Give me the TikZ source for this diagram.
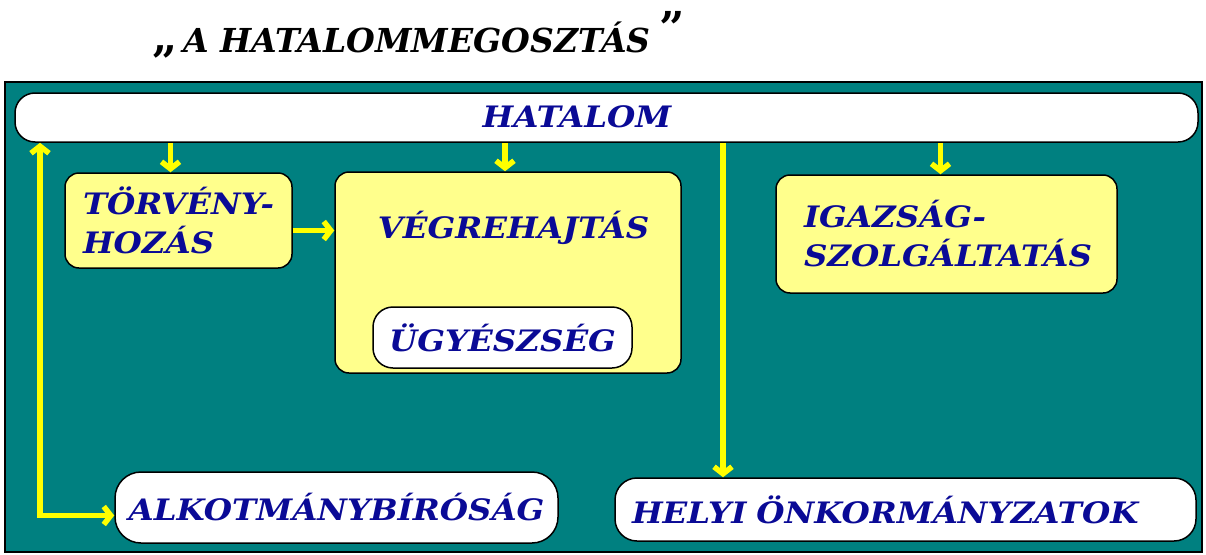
\documentclass[tikz,border=0pt]{standalone}
\usepackage{fontspec}
\setmainfont{DejaVu Serif}
\newfontfamily\dobozbetu{DejaVu Serif}[FakeStretch=1.1]
\usetikzlibrary{arrows.meta}
\definecolor{tenger}{RGB}{0,128,128}
\definecolor{halvsarga}{RGB}{255,255,140}
\definecolor{sarga}{RGB}{255,255,0}
\definecolor{kek}{RGB}{10,10,150}

\begin{document}
\begin{tikzpicture}[x=1pt,y=-1pt,
		felirat/.style={font=\dobozbetu\fontsize{29.5}{39}\selectfont\bfseries\itshape, text=kek},
		sargadoboz/.style={draw=black, line width=1.5pt, fill=halvsarga, rounded corners=14pt, felirat},
		feherdoboz/.style={draw=black, line width=1.5pt, fill=white, rounded corners=22pt, felirat},
		nyil/.style={draw=sarga, line width=5.5pt, -{Straight Barb[length=7pt,width=18pt]}},
		ketnyil/.style={nyil, {Straight Barb[length=7pt,width=18pt]}-{Straight Barb[length=7pt,width=18pt]}}]
	\useasboundingbox (0,0) rectangle (1206,554);
	\draw[line width=2pt, fill=tenger] (5,82) rectangle (1202,552);
	\node[font=\fontsize{33}{40}\selectfont\bfseries\itshape, anchor=base west, inner sep=0] (cim) at (152,52) {{\upshape\fontsize{44}{44}\selectfont „}\,A HATALOMMEGOSZTÁS\;\raisebox{9pt}{\upshape\fontsize{44}{44}\selectfont ”}};

	\node[feherdoboz, rounded corners=20pt, minimum width=1183, minimum height=49] (hatalom) at (606.5,117.5) {};
	\node[felirat, inner sep=0] (hatalomfelirat) at (577,117) {HATALOM};
	\node[sargadoboz, text width=191pt, inner xsep=18pt, align=left, minimum height=95] (torveny) at (178.5,220.5) {\mbox{TÖRVÉNY-}\\HOZÁS};
	\node[sargadoboz, minimum width=346, minimum height=201] (vegre) at (508,272.5) {};
	\node[felirat, inner sep=0] (vegrefelirat) at (513.5,228) {VÉGREHAJTÁS};
	\node[feherdoboz, rounded corners=20pt, minimum width=259, minimum height=61] (ugyesz) at (502.5,337.5) {ÜGYÉSZSÉG};
	\node[sargadoboz, text width=285pt, inner xsep=28pt, align=left, minimum height=118] (igaz) at (946.5,234) {\mbox{IGAZSÁG-}\\SZOLGÁLTATÁS};
	\node[feherdoboz, rounded corners=26pt, minimum width=443, minimum height=71] (alkot) at (336.5,507.5) {ALKOTMÁNYBÍRÓSÁG};
	\node[feherdoboz, text width=547pt, inner xsep=17pt, align=left, minimum height=63] (helyi) at (905.5,509.5) {HELYI ÖNKORMÁNYZATOK};

	\foreach \doboz/\eltol in {torveny/-8, vegre/-3, igaz/-6}
	{
		\coordinate (c) at ([xshift=\eltol pt]\doboz.north);
		\draw[nyil] (c |- hatalom.south) -- (c);
	}
	\coordinate (tv) at ([yshift=-10pt]torveny.east);
	\draw[nyil] (tv) -- (tv -| vegre.west);
	\coordinate (hx) at (723,0);
	\draw[nyil] (hatalom.south -| hx) -- (helyi.north -| hx);
	\coordinate (bx) at (40,0);
	\coordinate (ak) at ([yshift=-8pt]alkot.west);
	\draw[ketnyil] (hatalom.south -| bx) -- (bx |- ak) -- (ak);
\end{tikzpicture}
\end{document}
